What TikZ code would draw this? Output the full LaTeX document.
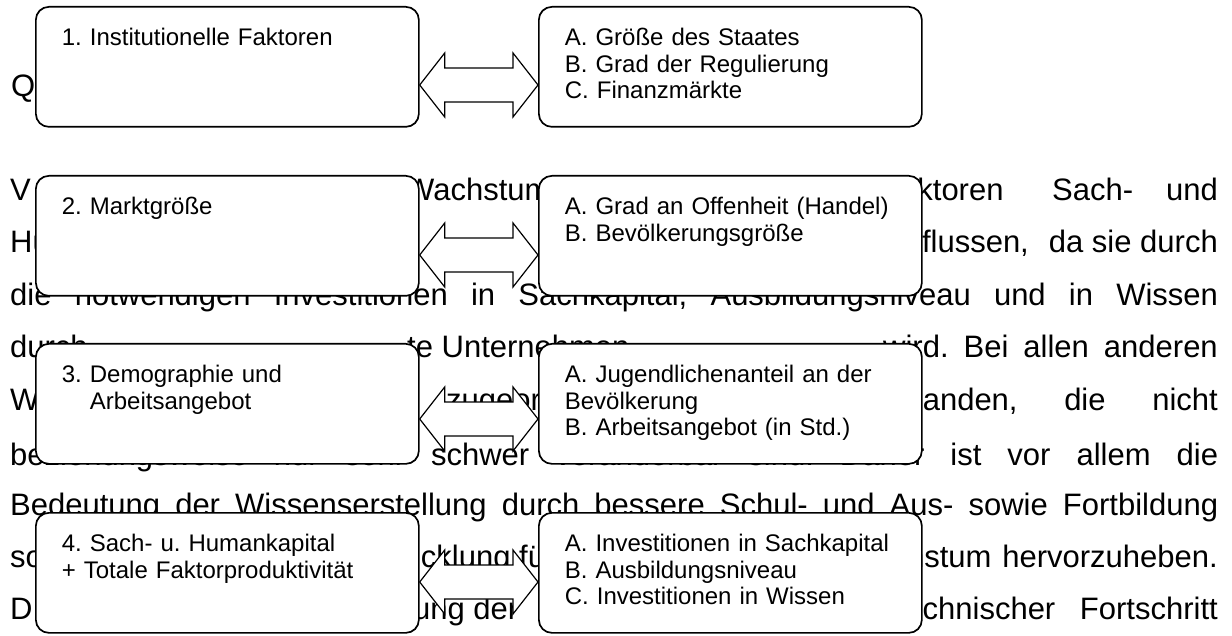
\documentclass[tikz,border=0pt]{standalone}
\usepackage{fontspec}
\setmainfont{Liberation Sans}
\usetikzlibrary{calc}
\frenchspacing

\tikzset{
  fakbox/.style={draw=black, line width=1.7pt, rounded corners=13pt, fill=white,
    anchor=north west, minimum width=383pt, minimum height=120pt,
    inner xsep=26pt, inner ysep=0pt, text width=331pt, align=left,
    text height=39pt, text depth=81pt, font=\fontsize{24}{26.5}\selectfont},
  bodytxt/.style={anchor=base west, inner sep=0pt, font=\fontsize{31}{36}\selectfont},
  bodyend/.style={anchor=base east, inner sep=0pt, font=\fontsize{31}{36}\selectfont},
  dblpfeil/.style={draw=black, line width=1.2pt, fill=white, line join=miter}
}

\begin{document}
\begin{tikzpicture}[x=1pt,y=-1pt]
	\useasboundingbox (0,0) rectangle (1232,636);
	\fill[white] (0,0) rectangle (1232,636);
	% text of the page behind the diagram
	\node[bodytxt] (q1) at (11,97) {Quelle:};
	\node[bodytxt] (v1) at (10,201) {V};
	\node[bodytxt] (v2) at (405,201) {Wachstum};
	\node[bodytxt] (v3) at (881,201) {Faktoren};
	\node[bodytxt] (v4) at (1052,201) {Sach-};
	\node[bodyend] (v5) at (1218,201) {und};
	\node[bodytxt] (h1) at (10,253) {Humankapital};
	\node[bodytxt] (h2) at (846,253) {beeinflussen,};
	\node[bodyend] (h3) at (1218,253) {da sie durch};
	\node[bodytxt] (n1) at (10,305.5) {\makebox[1208pt][s]{die notwendigen Investitionen in Sachkapital, Ausbildungsniveau und in Wissen}};
	\node[bodytxt] (d1) at (10,358) {durch};
	\node[bodytxt] (d2) at (407,358) {te Unternehmen};
	\node[bodyend] (d3) at (1218,358) {\makebox[334.6pt][s]{wird. Bei allen anderen}};
	\node[bodytxt] (w1) at (10,410) {W};
	\node[bodytxt] (w2) at (446,410) {zugeord};
	\node[bodyend] (w3) at (1218,410) {\makebox[355.3pt][s]{vorhanden, die nicht}};
	\node[bodytxt] (b1) at (10,465) {\makebox[1208pt][s]{beziehungsweise nur sehr schwer veränderbar sind. Daher ist vor allem die}};
	\node[bodytxt] (b2) at (10,515) {\makebox[1208pt][s]{Bedeutung der Wissenserstellung durch bessere Schul- und Aus- sowie Fortbildung}};
	\node[bodytxt] (s1) at (10,567) {so};
	\node[bodytxt] (s2) at (345,567) {Entwicklung für};
	\node[bodytxt] (s3) at (846,567) {Wachstum};
	\node[bodyend] (s4) at (1218,567) {hervorzuheben.};
	\node[bodytxt] (t1) at (10,619) {D};
	\node[bodytxt] (t2) at (413,619) {ung der};
	\node[bodyend] (t3) at (1218,619) {\makebox[321pt][s]{technischer Fortschritt}};
	% factor boxes
	\node[fakbox] (l1) at (35,6) {1. Institutionelle Faktoren};
	\node[fakbox] (r1) at (538,6) {A. Größe des Staates\\B. Grad der Regulierung\\C. Finanzmärkte};
	\node[fakbox] (l2) at (35,175) {2. Marktgröße};
	\node[fakbox] (r2) at (538,175) {A. Grad an Offenheit (Handel)\\B. Bevölkerungsgröße};
	\node[fakbox] (l3) at (35,343) {3. Demographie und\\\phantom{3. }Arbeitsangebot};
	\node[fakbox] (r3) at (538,343) {A. Jugendlichenanteil an der\\Bevölkerung\\B. Arbeitsangebot (in Std.)};
	\node[fakbox] (l4) at (35,512) {4. Sach- u. Humankapital\\+ Totale Faktorproduktivität};
	\node[fakbox] (r4) at (538,512) {A. Investitionen in Sachkapital\\B. Ausbildungsniveau\\C. Investitionen in Wissen};
	% double arrows between the boxes
	\coordinate (p1l) at ($(l1.north east)+(0,79)$);
	\coordinate (p1r) at ($(r1.north west)+(0,79)$);
	\draw[dblpfeil] (p1l) -- ++(25,-32) -- ++(0,15) -- ($(p1r)+(-25,-17)$) -- ++(0,-15) -- (p1r) -- ++(-25,32) -- ++(0,-15) -- ($(p1l)+(25,17)$) -- ++(0,15) -- cycle;
	\coordinate (p2l) at ($(l2.north east)+(0,80)$);
	\coordinate (p2r) at ($(r2.north west)+(0,80)$);
	\draw[dblpfeil] (p2l) -- ++(25,-32) -- ++(0,15) -- ($(p2r)+(-25,-17)$) -- ++(0,-15) -- (p2r) -- ++(-25,32) -- ++(0,-15) -- ($(p2l)+(25,17)$) -- ++(0,15) -- cycle;
	\coordinate (p3l) at ($(l3.north east)+(0,76)$);
	\coordinate (p3r) at ($(r3.north west)+(0,76)$);
	\draw[dblpfeil] (p3l) -- ++(25,-32) -- ++(0,15) -- ($(p3r)+(-25,-17)$) -- ++(0,-15) -- (p3r) -- ++(-25,32) -- ++(0,-15) -- ($(p3l)+(25,17)$) -- ++(0,15) -- cycle;
	\coordinate (p4l) at ($(l4.north east)+(0,70)$);
	\coordinate (p4r) at ($(r4.north west)+(0,70)$);
	\draw[dblpfeil] (p4l) -- ++(25,-32) -- ++(0,15) -- ($(p4r)+(-25,-17)$) -- ++(0,-15) -- (p4r) -- ++(-25,32) -- ++(0,-15) -- ($(p4l)+(25,17)$) -- ++(0,15) -- cycle;
\end{tikzpicture}
\end{document}
